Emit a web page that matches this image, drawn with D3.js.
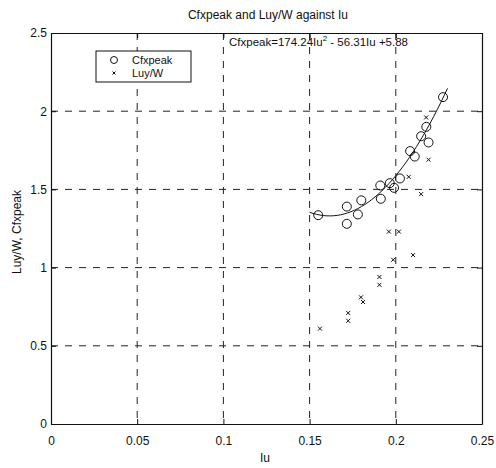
<!DOCTYPE html>
<html>
<head>
<meta charset="utf-8">
<script src="https://cdn.jsdelivr.net/npm/d3@7"></script>
<style>
  body { margin: 0; background: #fff; }
  text { font-family: "Liberation Sans", Arial, sans-serif; fill: #111; }
</style>
</head>
<body>
<div id="chart"></div>
<script>
// Cfxpeak measurements (Iu, Cfxpeak)
var cfxIu  = [0.155, 0.1716, 0.1716, 0.178, 0.180, 0.1913, 0.191, 0.1965, 0.199, 0.2024, 0.2083, 0.211, 0.2147, 0.2177, 0.219, 0.2274];
var cfxVal = [1.335, 1.39, 1.28, 1.34, 1.43, 1.44, 1.525, 1.54, 1.51, 1.57, 1.745, 1.71, 1.84, 1.90, 1.80, 2.09];

// Luy/W measurements (Iu, Luy/W)
var luyIu  = [0.156, 0.1724, 0.1724, 0.1798, 0.181, 0.1905, 0.1905, 0.1985, 0.196, 0.2018, 0.210, 0.2147, 0.2075, 0.219, 0.2176];
var luyVal = [0.61, 0.71, 0.66, 0.81, 0.78, 0.94, 0.89, 1.05, 1.23, 1.23, 1.08, 1.47, 1.58, 1.69, 1.96];

// quadratic fit coefficients and range
var fitCoef = [174.24, -56.31, 5.88];
var fitRange = [0.15, 0.23];

var xTicks = [0, 0.05, 0.1, 0.15, 0.2, 0.25];
var yTicks = [0, 0.5, 1, 1.5, 2, 2.5];
var xTickLabels = ["0", "0.05", "0.1", "0.15", "0.2", "0.25"];
var yTickLabels = ["0", "0.5", "1", "1.5", "2", "2.5"];

var width = 496, height = 468;
var margin = {top: 33, right: 14, bottom: 44, left: 51};
var plotW = width - margin.left - margin.right,
    plotH = height - margin.top - margin.bottom;

var svg = d3.select("#chart").append("svg")
    .attr("width", width)
    .attr("height", height);

var x = d3.scaleLinear().domain([0, 0.25]).range([0, plotW]);
var y = d3.scaleLinear().domain([0, 2.5]).range([plotH, 0]);

var g = svg.append("g")
    .attr("transform", "translate(" + margin.left + "," + margin.top + ")");

//dashed grid
g.append("g").selectAll("line.vg")
    .data(xTicks.slice(1, -1))
    .enter().append("line")
    .attr("x1", function (d) { return x(d); })
    .attr("x2", function (d) { return x(d); })
    .attr("y1", 0).attr("y2", plotH)
    .attr("stroke", "#222").attr("stroke-width", 1)
    .attr("stroke-dasharray", "7,7");

g.append("g").selectAll("line.hg")
    .data(yTicks.slice(1, -1))
    .enter().append("line")
    .attr("y1", function (d) { return y(d); })
    .attr("y2", function (d) { return y(d); })
    .attr("x1", 0).attr("x2", plotW)
    .attr("stroke", "#222").attr("stroke-width", 1)
    .attr("stroke-dasharray", "7,7");

//axes (ticks pointing inward, box around)
var xAxis = d3.axisBottom(x).tickValues(xTicks)
    .tickFormat(function (d, i) { return xTickLabels[i]; })
    .tickSizeInner(-5).tickSizeOuter(0).tickPadding(12);
var yAxis = d3.axisLeft(y).tickValues(yTicks)
    .tickFormat(function (d, i) { return yTickLabels[i]; })
    .tickSizeInner(-5).tickSizeOuter(0).tickPadding(4);

var gx = g.append("g").attr("transform", "translate(0," + plotH + ")").call(xAxis);
var gy = g.append("g").call(yAxis);
g.append("g").call(d3.axisTop(x).tickValues(xTicks).tickFormat("").tickSizeInner(-5).tickSizeOuter(0));
g.append("g").attr("transform", "translate(" + plotW + ",0)")
    .call(d3.axisRight(y).tickValues(yTicks).tickFormat("").tickSizeInner(-5).tickSizeOuter(0));

g.selectAll(".domain").attr("stroke", "#111").attr("stroke-width", 1.2);
g.selectAll(".tick line").attr("stroke", "#111");
gx.selectAll("text").style("font-size", "12px").attr("fill", "#111");
gy.selectAll("text").style("font-size", "12px").attr("fill", "#111");

//fitted curve
var fitPts = d3.range(0, 41).map(function (i) {
    var u = fitRange[0] + (fitRange[1] - fitRange[0]) * i / 40;
    return [u, fitCoef[0] * u * u + fitCoef[1] * u + fitCoef[2]];
});
g.append("path")
    .datum(fitPts)
    .attr("d", d3.line().x(function (d) { return x(d[0]); }).y(function (d) { return y(d[1]); }))
    .attr("fill", "none").attr("stroke", "#111").attr("stroke-width", 1);

//circles
g.append("g").selectAll("circle")
    .data(cfxIu)
    .enter().append("circle")
    .attr("cx", function (d) { return x(d); })
    .attr("cy", function (d, i) { return y(cfxVal[i]); })
    .attr("r", 4.5)
    .attr("fill", "none").attr("stroke", "#111").attr("stroke-width", 1);

//crosses
var cross = function (sel, s) {
    sel.attr("d", "M" + (-s) + "," + (-s) + "L" + s + "," + s + "M" + (-s) + "," + s + "L" + s + "," + (-s));
};
g.append("g").selectAll("path.cross")
    .data(luyIu)
    .enter().append("path")
    .attr("class", "cross")
    .attr("transform", function (d, i) { return "translate(" + x(d) + "," + y(luyVal[i]) + ")"; })
    .call(cross, 2)
    .attr("stroke", "#111").attr("stroke-width", 1);

//legend
var lg = svg.append("g").attr("transform", "translate(96,51)");
lg.append("rect").attr("width", 95).attr("height", 31)
    .attr("fill", "#fff").attr("stroke", "#111").attr("stroke-width", 1);
lg.append("circle").attr("cx", 18).attr("cy", 9).attr("r", 3.5)
    .attr("fill", "none").attr("stroke", "#111");
lg.append("path").attr("transform", "translate(18,22)").call(cross, 1.5)
    .attr("stroke", "#111");
lg.append("text").attr("x", 36).attr("y", 13).style("font-size", "11px").text("Cfxpeak");
lg.append("text").attr("x", 36).attr("y", 26).style("font-size", "11px").text("Luy/W");

//equation
svg.append("text").attr("x", 229).attr("y", 46).style("font-size", "11.5px")
    .html("Cfxpeak=174.24Iu<tspan dy='-5' style='font-size:8px'>2</tspan><tspan dy='5'> - 56.31Iu +5.88</tspan>");

//title and labels
svg.append("text").attr("x", 268).attr("y", 19).attr("text-anchor", "middle")
    .style("font-size", "12px").text("Cfxpeak and Luy/W against Iu");
svg.append("text").attr("x", 265).attr("y", 462).attr("text-anchor", "middle")
    .style("font-size", "12px").text("Iu");
svg.append("text").attr("transform", "translate(21,232) rotate(-90)").attr("text-anchor", "middle")
    .style("font-size", "12px").text("Luy/W, Cfxpeak");
</script>
</body>
</html>
